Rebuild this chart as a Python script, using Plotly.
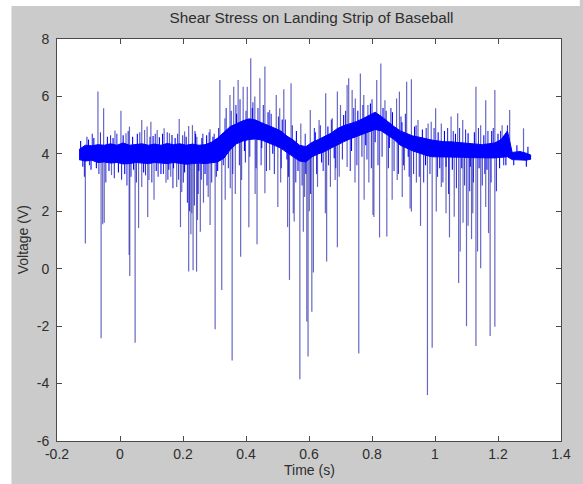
import plotly.graph_objects as go

# ---------------------------------------------------------------
# Sensor trace: dense baseline band (upper/lower edge) plus spikes
# ---------------------------------------------------------------
band_t = [-0.13, -0.11, -0.09, -0.07, -0.05, -0.03, -0.01, 0.01, 0.03, 0.05,
          0.07, 0.09, 0.11, 0.13, 0.15, 0.17, 0.19, 0.21, 0.23, 0.25,
          0.27, 0.29, 0.31, 0.33, 0.35, 0.37, 0.39, 0.41, 0.43, 0.45,
          0.47, 0.49, 0.51, 0.53, 0.55, 0.57, 0.59, 0.61, 0.63, 0.65,
          0.67, 0.69, 0.71, 0.73, 0.75, 0.77, 0.79, 0.81, 0.83, 0.85,
          0.87, 0.89, 0.91, 0.93, 0.95, 0.97, 0.99, 1.01, 1.03, 1.05,
          1.07, 1.09, 1.11, 1.13, 1.15, 1.17, 1.19, 1.21, 1.23, 1.245,
          1.27, 1.29, 1.305]
band_hi = [4.15, 4.30, 4.28, 4.32, 4.30, 4.35, 4.30, 4.38, 4.30, 4.33,
           4.35, 4.30, 4.34, 4.30, 4.36, 4.32, 4.35, 4.30, 4.34, 4.30,
           4.32, 4.40, 4.55, 4.75, 4.95, 5.05, 5.15, 5.22, 5.18, 5.08,
           5.00, 4.90, 4.80, 4.62, 4.48, 4.30, 4.25, 4.40, 4.50, 4.60,
           4.72, 4.88, 4.98, 5.05, 5.12, 5.22, 5.35, 5.45, 5.30, 5.12,
           4.95, 4.80, 4.70, 4.62, 4.58, 4.52, 4.48, 4.45, 4.42, 4.42,
           4.40, 4.38, 4.38, 4.35, 4.32, 4.35, 4.38, 4.50, 4.80, 4.05,
           4.08, 4.02, 3.95]
band_lo = [3.80, 3.75, 3.78, 3.70, 3.72, 3.68, 3.70, 3.65, 3.66, 3.70,
           3.68, 3.66, 3.70, 3.68, 3.66, 3.70, 3.67, 3.64, 3.66, 3.68,
           3.66, 3.70, 3.72, 3.85, 4.15, 4.35, 4.45, 4.50, 4.52, 4.48,
           4.40, 4.30, 4.20, 4.05, 3.88, 3.75, 3.72, 3.90, 4.00, 4.08,
           4.20, 4.32, 4.42, 4.52, 4.60, 4.68, 4.78, 4.85, 4.80, 4.66,
           4.50, 4.30, 4.20, 4.10, 4.03, 3.95, 3.90, 3.90, 3.88, 3.88,
           3.88, 3.88, 3.87, 3.86, 3.85, 3.86, 3.86, 3.88, 3.90, 3.80,
           3.80, 3.78, 3.82]

# Large positive spikes
up_t = [-0.070, -0.052, -0.016, 0.003, 0.019, 0.030, 0.069, 0.078, 0.086, 0.098,
        0.118, 0.140, 0.157, 0.188, 0.205, 0.218, 0.230, 0.244, 0.286, 0.317,
        0.333, 0.349, 0.361, 0.375, 0.391, 0.404, 0.415, 0.428, 0.444, 0.460,
        0.475, 0.496, 0.507, 0.520, 0.543, 0.574, 0.604, 0.632, 0.653, 0.674,
        0.690, 0.700, 0.721, 0.726, 0.737, 0.747, 0.763, 0.774, 0.787, 0.815,
        0.828, 0.841, 0.878, 0.887, 0.910, 0.925, 0.946, 0.978, 0.988, 1.002,
        1.020, 1.051, 1.072, 1.088, 1.130, 1.145, 1.161, 1.190, 1.213, 1.237,
        1.281]
up_tip = [6.17, 5.59, 4.81, 5.50, 4.72, 4.95, 5.18, 4.83, 4.95, 5.12,
          4.83, 4.89, 4.72, 5.21, 4.78, 4.97, 5.00, 4.60, 4.86, 6.57,
          5.24, 6.05, 6.34, 6.57, 6.34, 6.34, 7.33, 6.00, 6.63, 7.04,
          5.53, 6.05, 5.59, 6.25, 6.46, 5.06, 5.53, 5.18, 6.11, 5.24,
          6.17, 5.70, 6.40, 6.63, 6.22, 5.93, 6.80, 6.05, 5.70, 6.57,
          7.15, 5.87, 5.93, 6.17, 6.51, 6.60, 5.18, 5.06, 5.12, 5.59,
          5.06, 5.30, 5.41, 5.18, 6.34, 5.00, 5.87, 6.22, 5.00, 5.53,
          4.89]
up_base = [4.0, 4.0, 4.0, 4.0, 4.0, 4.0, 4.0, 4.0, 4.0, 4.0,
           4.0, 4.0, 4.0, 4.0, 4.0, 4.0, 4.0, 4.0, 4.0, 4.1,
           4.3, 4.5, 4.6, 4.7, 4.8, 4.85, 4.85, 4.85, 4.8, 4.75,
           4.7, 4.6, 4.5, 4.4, 4.2, 4.0, 4.1, 4.25, 4.35, 4.45,
           4.6, 4.65, 4.75, 4.75, 4.8, 4.85, 4.9, 4.95, 5.05, 5.15,
           5.05, 4.95, 4.7, 4.6, 4.45, 4.4, 4.3, 4.2, 4.2, 4.15,
           4.15, 4.15, 4.1, 4.1, 4.1, 4.1, 4.1, 4.1, 4.2, 4.3,
           3.9]

# Negative spikes (deep and medium)
down_t = [-0.110, -0.060, -0.055, -0.050, -0.027, 0.029, 0.031, 0.048, 0.059, 0.069,
          0.088, 0.092, 0.108, 0.146, 0.161, 0.180, 0.192, 0.196, 0.218, 0.225,
          0.228, 0.232, 0.243, 0.246, 0.255, 0.265, 0.280, 0.286, 0.302, 0.323,
          0.334, 0.350, 0.356, 0.366, 0.383, 0.386, 0.409, 0.429, 0.435, 0.460,
          0.475, 0.501, 0.510, 0.532, 0.538, 0.550, 0.553, 0.571, 0.582, 0.586,
          0.593, 0.597, 0.601, 0.609, 0.614, 0.627, 0.652, 0.656, 0.668, 0.683,
          0.690, 0.696, 0.721, 0.746, 0.758, 0.775, 0.790, 0.803, 0.806, 0.824,
          0.847, 0.864, 0.880, 0.896, 0.903, 0.921, 0.925, 0.941, 0.954, 0.976,
          0.991, 1.004, 1.020, 1.035, 1.046, 1.061, 1.075, 1.080, 1.089, 1.100,
          1.105, 1.116, 1.120, 1.130, 1.135, 1.145, 1.161, 1.170, 1.175, 1.190]
down_tip = [0.88, -2.42, 1.55, 1.60, 3.26, 0.48, -0.25, -2.58, 1.42, 2.85,
            1.80, 3.09, 2.40, 2.99, 3.20, 2.85, 1.45, 2.67, -0.10, 1.20,
            1.93, -0.05, -0.10, 1.70, 1.29, 2.30, 2.50, 1.52, -2.11, -0.74,
            2.40, 2.80, -3.20, 2.60, 0.42, 3.09, 1.44, 2.60, 0.85, 2.63,
            3.43, 2.15, 3.00, 1.45, -0.39, 1.93, 1.64, -3.85, 1.29, 2.50,
            -1.84, -3.06, 2.00, -1.50, -0.13, 2.85, 1.93, 0.25, 2.85, 3.09,
            0.75, 3.20, 3.54, 3.00, -2.95, 2.40, 3.00, 1.87, 1.80, 1.09,
            1.12, 2.40, 3.09, 2.50, 3.43, 2.10, 1.99, 3.00, 1.49, -4.40,
            -2.75, 1.99, 2.85, 1.93, 1.09, 1.81, -0.50, 0.60, 1.60, -2.00,
            1.50, 1.03, 1.93, -2.69, 0.60, 0.02, 2.15, 1.24, -2.34, -2.02]
down_base = [4.0, 4.0, 4.0, 4.0, 4.0, 4.0, 4.0, 4.0, 4.0, 4.0,
             4.0, 4.0, 4.0, 4.0, 4.0, 4.0, 4.0, 4.0, 4.0, 4.0,
             4.0, 4.0, 4.0, 4.0, 4.0, 4.0, 4.0, 4.0, 4.0, 4.1,
             4.3, 4.5, 4.5, 4.6, 4.7, 4.7, 4.8, 4.85, 4.8, 4.75,
             4.7, 4.5, 4.5, 4.3, 4.3, 4.2, 4.2, 4.0, 4.0, 4.0,
             4.0, 4.0, 4.1, 4.1, 4.1, 4.25, 4.35, 4.35, 4.45, 4.55,
             4.6, 4.65, 4.75, 4.85, 4.85, 4.95, 5.05, 5.1, 5.1, 5.1,
             4.9, 4.8, 4.7, 4.55, 4.5, 4.45, 4.4, 4.35, 4.3, 4.2,
             4.2, 4.15, 4.15, 4.15, 4.15, 4.1, 4.1, 4.1, 4.1, 4.1,
             4.1, 4.1, 4.1, 4.1, 4.1, 4.1, 4.1, 4.1, 4.1, 4.1]

# Short excursions along the edges of the baseline band
fringe_t = [-0.125, -0.118, -0.100, -0.092, -0.083, -0.075, -0.040, -0.035, -0.022, -0.005,
            0.010, 0.015, 0.040, 0.043, 0.055, 0.075, 0.105, 0.115, 0.125, 0.130,
            0.135, 0.155, 0.165, 0.170, 0.175, 0.205, 0.210, 0.240, 0.250, 0.260,
            0.270, 0.275, 0.295, 0.310, 0.340, 0.370, 0.395, 0.420, 0.450, 0.470,
            0.485, 0.515, 0.530, 0.560, 0.565, 0.590, 0.620, 0.640, 0.660, 0.680,
            0.710, 0.735, 0.755, 0.780, 0.795, 0.810, 0.835, 0.855, 0.865, 0.895,
            0.915, 0.935, 0.960, 0.970, 1.010, 1.015, 1.030, 1.035, 1.055, 1.065,
            1.085, 1.105, 1.112, 1.125, 1.140, 1.155, 1.165, 1.180, 1.200, 1.205,
            1.225, 1.250, 1.260, 1.290, 1.295]
fringe_tip = [4.45, 3.55, 4.50, 3.45, 4.55, 3.50, 4.60, 3.40, 4.55, 3.35,
              4.65, 3.30, 4.60, 3.45, 4.70, 3.35, 4.62, 3.40, 4.58, 3.30,
              4.70, 3.45, 4.66, 3.50, 4.55, 3.35, 4.60, 4.70, 3.40, 4.55,
              3.30, 4.65, 4.60, 3.40, 4.20, 5.40, 4.10, 5.60, 4.20, 5.45,
              4.00, 5.20, 3.80, 4.80, 3.40, 3.30, 4.75, 3.70, 4.95, 3.85,
              5.35, 4.10, 5.50, 4.30, 5.75, 4.40, 5.60, 4.20, 5.45, 5.10,
              3.90, 4.95, 4.85, 3.60, 4.75, 3.50, 4.80, 3.55, 3.45, 4.70,
              3.50, 4.72, 3.55, 4.75, 3.50, 4.65, 3.45, 4.80, 4.70, 3.50,
              3.60, 3.60, 4.30, 3.55, 4.25]
fringe_base = [4.0, 4.0, 4.0, 4.0, 4.0, 4.0, 4.0, 4.0, 4.0, 4.0,
               4.0, 4.0, 4.0, 4.0, 4.0, 4.0, 4.0, 4.0, 4.0, 4.0,
               4.0, 4.0, 4.0, 4.0, 4.0, 4.0, 4.0, 4.0, 4.0, 4.0,
               4.0, 4.0, 4.0, 4.0, 4.4, 4.7, 4.8, 4.85, 4.8, 4.7,
               4.6, 4.5, 4.35, 4.1, 4.0, 4.0, 4.2, 4.3, 4.4, 4.5,
               4.7, 4.8, 4.85, 5.0, 5.1, 5.15, 5.05, 4.9, 4.85, 4.55,
               4.45, 4.35, 4.3, 4.25, 4.15, 4.15, 4.15, 4.15, 4.15, 4.15,
               4.1, 4.1, 4.1, 4.1, 4.1, 4.1, 4.1, 4.1, 4.1, 4.1,
               4.2, 3.92, 3.92, 3.9, 3.9]

# Medium-length excursions that thicken the region around the band
mid_t = [-0.113, -0.105, -0.097, -0.088, -0.067, -0.062, -0.045, -0.030, -0.018, -0.010,
         0.005, 0.022, 0.026, 0.035, 0.052, 0.063, 0.081, 0.095, 0.101, 0.112,
         0.121, 0.138, 0.150, 0.152, 0.168, 0.183, 0.186, 0.199, 0.201, 0.214,
         0.221, 0.236, 0.238, 0.248, 0.258, 0.263, 0.276, 0.283, 0.291, 0.299,
         0.306, 0.313, 0.328, 0.337, 0.344, 0.353, 0.358, 0.368, 0.379, 0.381,
         0.398, 0.400, 0.412, 0.422, 0.432, 0.438, 0.448, 0.455, 0.465, 0.480,
         0.490, 0.503, 0.512, 0.525, 0.535, 0.547, 0.558, 0.578, 0.588, 0.605,
         0.617, 0.624, 0.636, 0.645, 0.662, 0.671, 0.685, 0.706, 0.716, 0.731,
         0.742, 0.752, 0.768, 0.771, 0.784, 0.798, 0.800, 0.819, 0.832, 0.845,
         0.852, 0.860, 0.870, 0.884, 0.892, 0.900, 0.906, 0.918, 0.932, 0.940,
         0.950, 0.964, 0.972, 0.984, 0.997, 1.008, 1.025, 1.040, 1.043, 1.058,
         1.068, 1.078, 1.094, 1.097, 1.110, 1.122, 1.138, 1.150, 1.158, 1.168,
         1.178, 1.185, 1.195, 1.208, 1.218, 1.230]
mid_tip = [3.20, 4.60, 3.60, 4.70, 3.30, 4.75, 3.00, 4.65, 3.15, 4.70,
           3.10, 2.90, 4.80, 3.20, 3.00, 4.75, 3.25, 4.60, 3.00, 4.70,
           3.20, 3.30, 4.75, 3.10, 2.80, 4.70, 3.10, 4.65, 3.00, 2.30,
           2.00, 2.20, 4.80, 2.60, 3.10, 4.70, 2.90, 4.75, 3.00, 4.70,
           3.20, 4.90, 3.60, 5.60, 3.50, 5.50, 3.30, 5.70, 3.60, 5.90,
           3.70, 5.50, 3.90, 5.80, 3.50, 5.60, 3.60, 5.70, 3.40, 5.40,
           3.30, 5.30, 3.50, 5.20, 3.20, 5.00, 3.00, 2.90, 4.70, 2.60,
           4.90, 3.30, 5.00, 3.40, 3.60, 5.20, 3.50, 3.80, 5.50, 3.40,
           5.60, 3.60, 3.90, 5.70, 3.80, 3.50, 5.90, 3.60, 3.90, 5.50,
           3.50, 5.60, 3.40, 3.30, 5.30, 3.60, 5.40, 3.20, 3.30, 5.00,
           3.20, 3.00, 4.90, 3.30, 4.90, 3.20, 3.00, 4.90, 2.60, 4.80,
           2.80, 4.90, 2.90, 4.85, 2.70, 3.00, 4.90, 2.90, 3.30, 4.80,
           3.00, 4.90, 2.70, 4.80, 3.60, 5.00]
mid_base = [4.0, 4.0, 4.0, 4.0, 4.0, 4.0, 4.0, 4.0, 4.0, 4.0,
            4.0, 4.0, 4.0, 4.0, 4.0, 4.0, 4.0, 4.0, 4.0, 4.0,
            4.0, 4.0, 4.0, 4.0, 4.0, 4.0, 4.0, 4.0, 4.0, 4.0,
            4.0, 4.0, 4.0, 4.0, 4.0, 4.0, 4.0, 4.0, 4.0, 4.0,
            4.0, 4.0, 4.2, 4.35, 4.4, 4.55, 4.6, 4.7, 4.75, 4.75,
            4.8, 4.8, 4.85, 4.85, 4.85, 4.8, 4.8, 4.78, 4.75, 4.65,
            4.6, 4.5, 4.45, 4.35, 4.3, 4.2, 4.1, 4.0, 4.0, 4.1,
            4.15, 4.2, 4.3, 4.3, 4.4, 4.45, 4.55, 4.7, 4.75, 4.78,
            4.82, 4.85, 4.9, 4.92, 5.0, 5.1, 5.1, 5.15, 5.05, 4.95,
            4.9, 4.85, 4.8, 4.65, 4.58, 4.5, 4.48, 4.42, 4.35, 4.33,
            4.3, 4.25, 4.25, 4.2, 4.15, 4.15, 4.15, 4.15, 4.15, 4.15,
            4.1, 4.1, 4.1, 4.1, 4.1, 4.1, 4.1, 4.1, 4.1, 4.1,
            4.1, 4.1, 4.1, 4.15, 4.2, 4.3]

x_ticks = [-0.2, 0, 0.2, 0.4, 0.6, 0.8, 1, 1.2, 1.4]
x_tick_text = ["-0.2", "0", "0.2", "0.4", "0.6", "0.8", "1", "1.2", "1.4"]
y_ticks = [-6, -4, -2, 0, 2, 4, 6, 8]
y_tick_text = ["-6", "-4", "-2", "0", "2", "4", "6", "8"]

TRACE_BLUE = "#0000ff"
SPIKE_BLUE = "rgba(45,45,170,0.72)"
MID_BLUE = "rgba(15,15,215,0.85)"
TEXT = "#2e2e2e"
FONT = "Liberation Sans, Arial, sans-serif"


def segments(ts, bases, tips):
    xs, ys = [], []
    for t, b, v in zip(ts, bases, tips):
        xs += [t, t, None]
        ys += [b, v, None]
    return xs, ys


fig = go.Figure()

# spikes (drawn first so the band covers their roots)
for ts, bs, vs, col, w in [(down_t, down_base, down_tip, SPIKE_BLUE, 1.2),
                           (up_t, up_base, up_tip, SPIKE_BLUE, 1.2),
                           (mid_t, mid_base, mid_tip, MID_BLUE, 1.1),
                           (fringe_t, fringe_base, fringe_tip, TRACE_BLUE, 1.1)]:
    sx, sy = segments(ts, bs, vs)
    fig.add_trace(go.Scatter(x=sx, y=sy, mode="lines",
                             line=dict(color=col, width=w),
                             hoverinfo="skip", showlegend=False))

# baseline band
fig.add_trace(go.Scatter(x=band_t, y=band_lo, mode="lines",
                         line=dict(color=TRACE_BLUE, width=1),
                         hoverinfo="skip", showlegend=False))
fig.add_trace(go.Scatter(x=band_t, y=band_hi, mode="lines", fill="tonexty",
                         fillcolor=TRACE_BLUE,
                         line=dict(color=TRACE_BLUE, width=1),
                         hoverinfo="skip", showlegend=False))

# plot-area geometry in pixels
W, H = 583, 484
L, R, T, B = 57, 566, 39, 441
pw, ph = R - L, B - T


def px(xp):
    return (xp - L) / pw


def py(yp):
    return (B - yp) / ph


# white strips along the left and top edges of the figure window
fig.add_shape(type="rect", xref="paper", yref="paper", layer="below",
              x0=px(-2), x1=px(11), y0=py(W), y1=py(-2),
              fillcolor="white", line_width=0)
fig.add_shape(type="rect", xref="paper", yref="paper", layer="below",
              x0=px(-2), x1=px(W + 2), y0=py(6), y1=py(-2),
              fillcolor="white", line_width=0)

axis_common = dict(showgrid=False, zeroline=False, showline=True,
                   linecolor="#4a4a4a", linewidth=1, mirror="ticks",
                   ticks="inside", ticklen=5, tickcolor="#4a4a4a",
                   tickfont=dict(family=FONT, size=14, color=TEXT))

fig.update_layout(
    width=W, height=H,
    margin=dict(l=L, r=W - R, t=T, b=H - B, pad=0),
    paper_bgcolor="#cbcbcb", plot_bgcolor="white",
    xaxis=dict(range=[-0.2, 1.4], tickvals=x_ticks, ticktext=x_tick_text,
               **axis_common),
    yaxis=dict(range=[-6, 8], tickvals=y_ticks, ticktext=y_tick_text,
               ticklabelstandoff=4, **axis_common),
    title=dict(text="Shear Stress on Landing Strip of Baseball",
               x=(L + R) / 2 / W, xref="container", xanchor="center",
               y=1 - 18 / H, yref="container", yanchor="middle",
               font=dict(family=FONT, size=15.3, color=TEXT)),
    annotations=[
        dict(text="Time (s)", xref="paper", yref="paper",
             x=0.5, y=py(470), xanchor="center", yanchor="middle",
             showarrow=False, font=dict(family=FONT, size=14, color=TEXT)),
        dict(text="Voltage (V)", xref="paper", yref="paper",
             x=px(23), y=0.5, xanchor="center", yanchor="middle",
             textangle=-90, showarrow=False,
             font=dict(family=FONT, size=14, color=TEXT)),
    ],
)

fig.write_html("out.html")
